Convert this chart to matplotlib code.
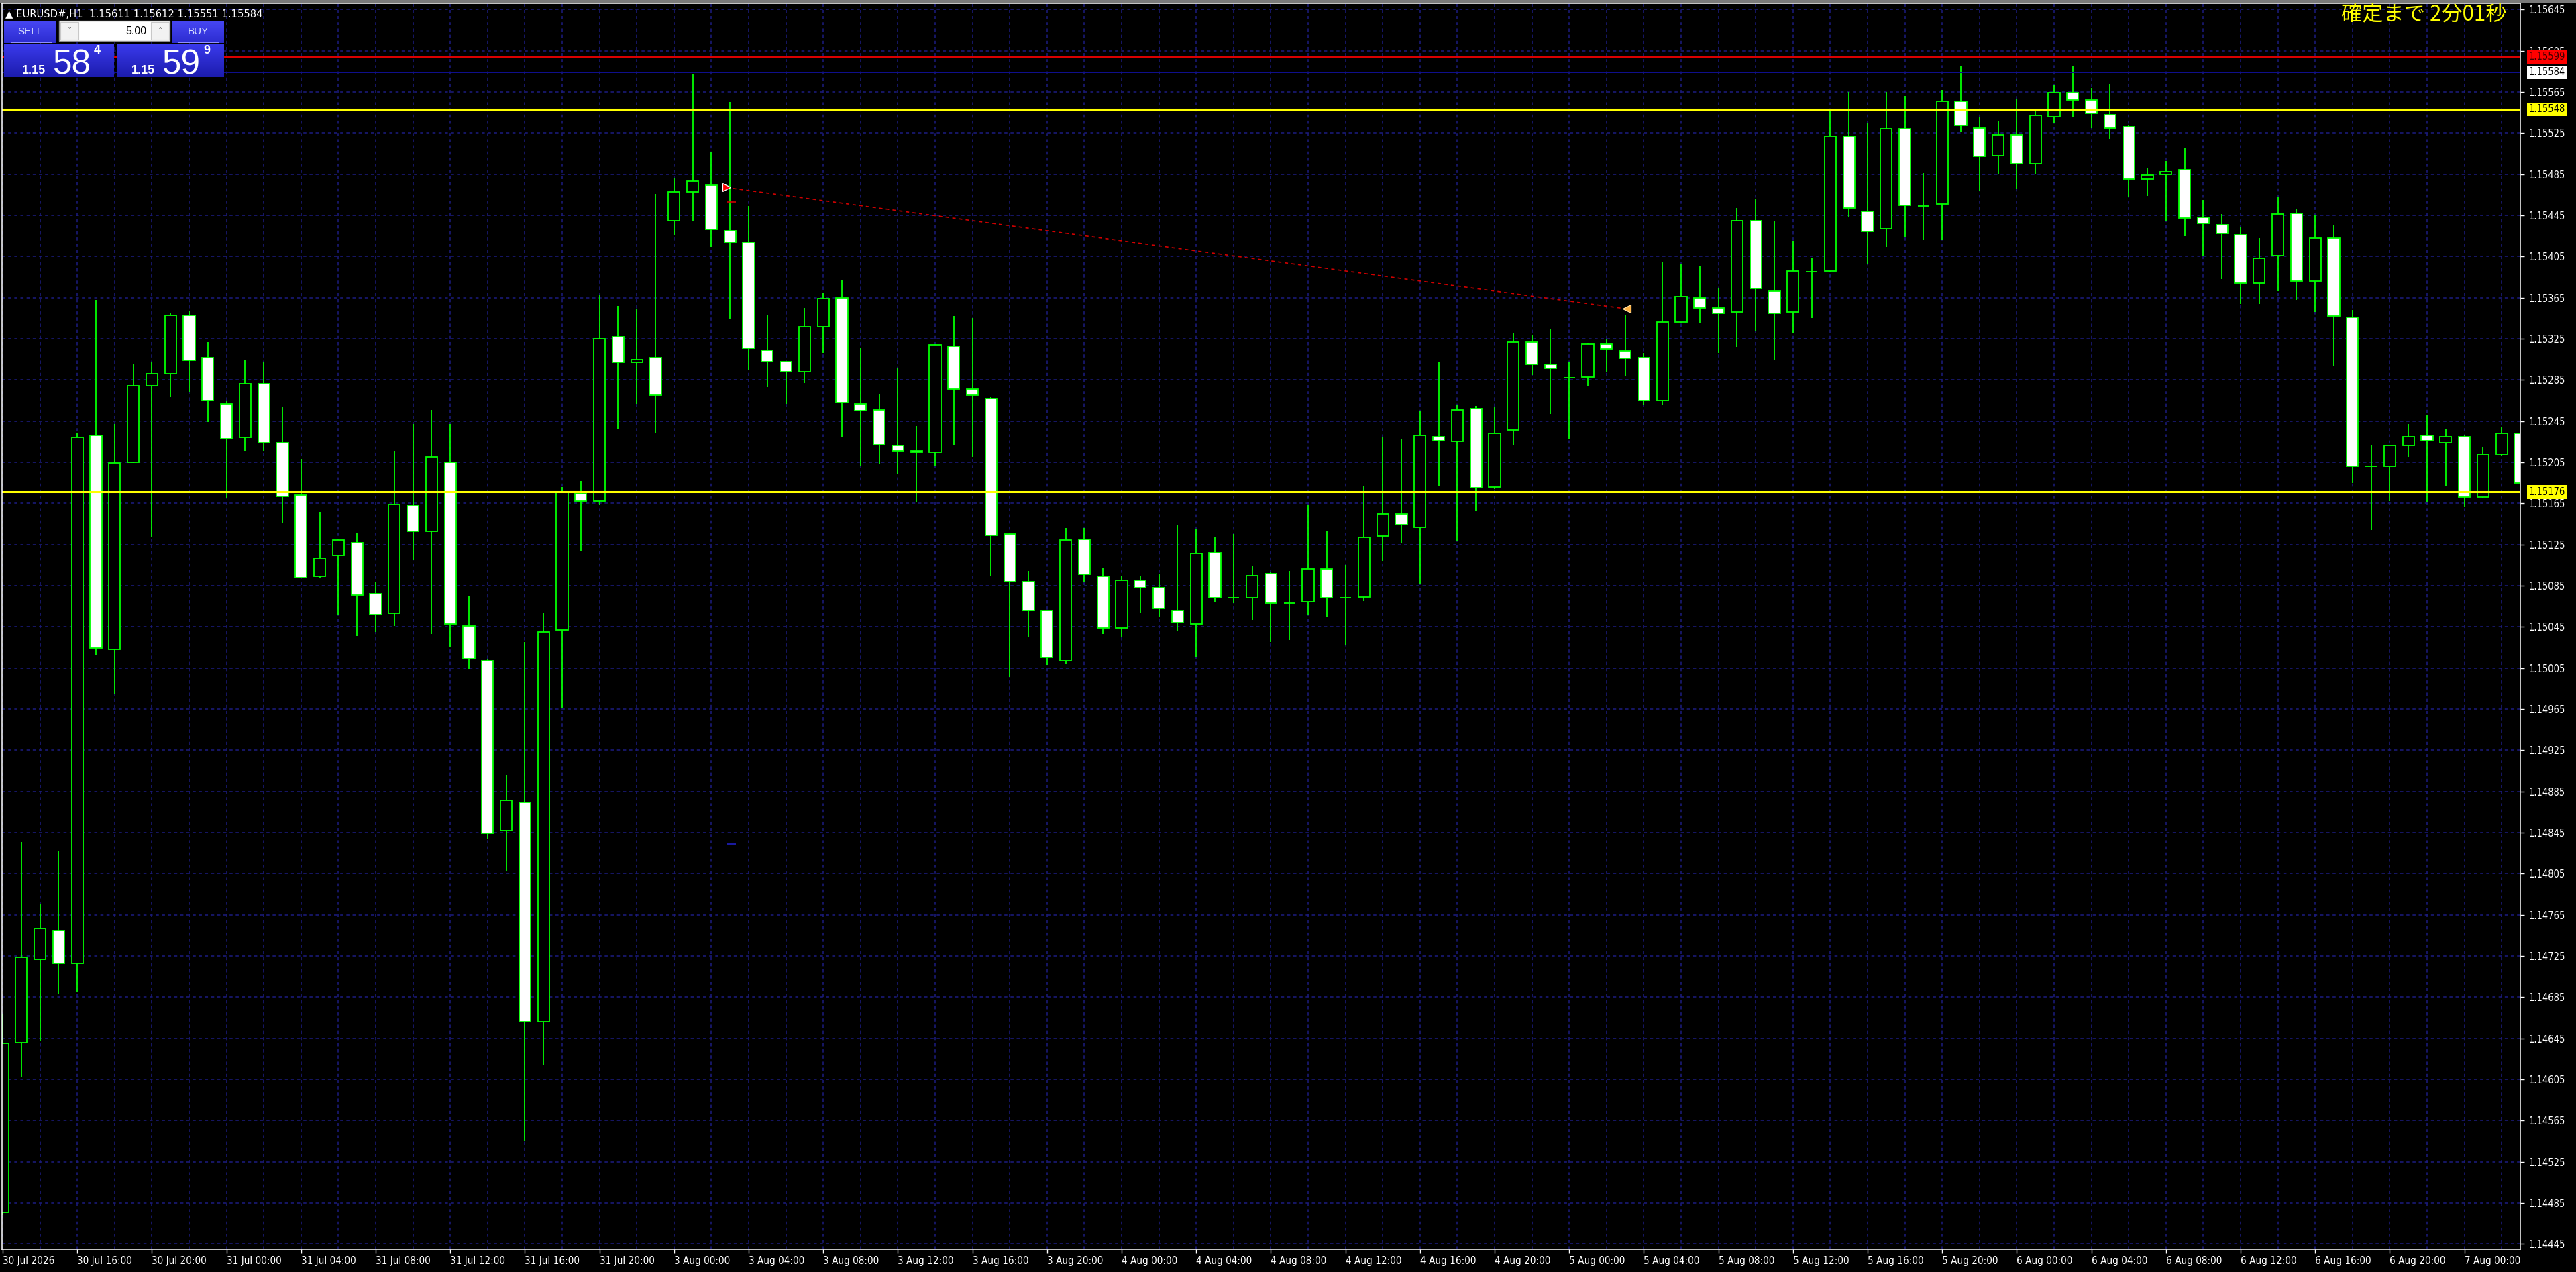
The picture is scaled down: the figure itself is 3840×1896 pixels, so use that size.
import numpy as np
import matplotlib
matplotlib.use("Agg")
import matplotlib.pyplot as plt
from matplotlib.patches import Rectangle
from matplotlib.colors import LinearSegmentedColormap
from matplotlib.ticker import FormatStrFormatter

# EURUSD H1 bars, oldest first (30 Jul 12:00 .. 7 Aug 03:00)
opens = [1.14476, 1.14641, 1.14722, 1.14750, 1.14718, 1.15231, 1.15023, 1.15205, 1.15279, 1.15291,
         1.15348, 1.15307, 1.15262, 1.15229, 1.15281, 1.15224, 1.15173, 1.15094, 1.15114, 1.15127,
         1.15077, 1.15058, 1.15163, 1.15138, 1.15205, 1.15046, 1.15012, 1.14847, 1.14874, 1.14661,
         1.15042, 1.15174, 1.15167, 1.15327, 1.15302, 1.15307, 1.15440, 1.15468, 1.15474, 1.15430,
         1.15419, 1.15314, 1.15303, 1.15293, 1.15337, 1.15365, 1.15262, 1.15256, 1.15221, 1.15216,
         1.15215, 1.15318, 1.15276, 1.15267, 1.15135, 1.15089, 1.15061, 1.15012, 1.15130, 1.15094,
         1.15044, 1.15090, 1.15083, 1.15061, 1.15048, 1.15117, 1.15073, 1.15073, 1.15097, 1.15068,
         1.15069, 1.15101, 1.15073, 1.15074, 1.15133, 1.15155, 1.15142, 1.15230, 1.15225, 1.15257,
         1.15181, 1.15236, 1.15322, 1.15300, 1.15287, 1.15288, 1.15320, 1.15313, 1.15307, 1.15265,
         1.15341, 1.15365, 1.15355, 1.15351, 1.15440, 1.15371, 1.15351, 1.15390, 1.15391, 1.15522,
         1.15449, 1.15432, 1.15529, 1.15454, 1.15456, 1.15556, 1.15530, 1.15503, 1.15523, 1.15495,
         1.15541, 1.15564, 1.15557, 1.15543, 1.15531, 1.15480, 1.15485, 1.15489, 1.15443, 1.15436,
         1.15426, 1.15379, 1.15406, 1.15447, 1.15381, 1.15423, 1.15346, 1.15201, 1.15201, 1.15221,
         1.15231, 1.15224, 1.15230, 1.15171, 1.15213, 1.15233]
highs = [1.14669, 1.14836, 1.14775, 1.14827, 1.15233, 1.15363, 1.15242, 1.15300, 1.15302, 1.15350,
         1.15352, 1.15322, 1.15264, 1.15305, 1.15303, 1.15259, 1.15208, 1.15157, 1.15130, 1.15136,
         1.15089, 1.15216, 1.15242, 1.15256, 1.15242, 1.15075, 1.15014, 1.14901, 1.15030, 1.15059,
         1.15181, 1.15187, 1.15368, 1.15357, 1.15354, 1.15466, 1.15481, 1.15582, 1.15507, 1.15555,
         1.15454, 1.15348, 1.15303, 1.15355, 1.15370, 1.15382, 1.15316, 1.15271, 1.15297, 1.15240,
         1.15320, 1.15347, 1.15345, 1.15268, 1.15136, 1.15099, 1.15061, 1.15141, 1.15141, 1.15102,
         1.15094, 1.15095, 1.15096, 1.15144, 1.15140, 1.15132, 1.15135, 1.15104, 1.15098, 1.15099,
         1.15164, 1.15138, 1.15105, 1.15182, 1.15230, 1.15227, 1.15255, 1.15303, 1.15261, 1.15260,
         1.15259, 1.15331, 1.15328, 1.15335, 1.15302, 1.15321, 1.15325, 1.15348, 1.15311, 1.15400,
         1.15397, 1.15396, 1.15374, 1.15452, 1.15461, 1.15439, 1.15420, 1.15403, 1.15547, 1.15565,
         1.15534, 1.15565, 1.15561, 1.15486, 1.15567, 1.15590, 1.15541, 1.15537, 1.15558, 1.15546,
         1.15572, 1.15590, 1.15569, 1.15573, 1.15533, 1.15491, 1.15498, 1.15510, 1.15460, 1.15446,
         1.15433, 1.15423, 1.15463, 1.15451, 1.15445, 1.15436, 1.15353, 1.15221, 1.15222, 1.15242,
         1.15251, 1.15237, 1.15232, 1.15219, 1.15239, 1.15236]
lows = [1.14473, 1.14607, 1.14643, 1.14688, 1.14690, 1.15018, 1.14980, 1.15204, 1.15132, 1.15268,
        1.15273, 1.15244, 1.15170, 1.15216, 1.15216, 1.15146, 1.15092, 1.15093, 1.15057, 1.15036,
        1.15040, 1.15046, 1.15110, 1.15038, 1.15025, 1.15004, 1.14839, 1.14808, 1.14545, 1.14619,
        1.14966, 1.15118, 1.15164, 1.15237, 1.15262, 1.15233, 1.15426, 1.15440, 1.15414, 1.15344,
        1.15294, 1.15278, 1.15262, 1.15282, 1.15311, 1.15230, 1.15201, 1.15203, 1.15194, 1.15166,
        1.15201, 1.15222, 1.15210, 1.15094, 1.14996, 1.15035, 1.15008, 1.15009, 1.15089, 1.15038,
        1.15035, 1.15058, 1.15055, 1.15041, 1.15015, 1.15069, 1.15068, 1.15052, 1.15030, 1.15032,
        1.15057, 1.15055, 1.15027, 1.15070, 1.15109, 1.15127, 1.15087, 1.15182, 1.15128, 1.15158,
        1.15179, 1.15222, 1.15290, 1.15252, 1.15227, 1.15279, 1.15293, 1.15289, 1.15261, 1.15261,
        1.15340, 1.15340, 1.15311, 1.15317, 1.15332, 1.15305, 1.15331, 1.15345, 1.15390, 1.15443,
        1.15397, 1.15414, 1.15424, 1.15421, 1.15421, 1.15526, 1.15469, 1.15485, 1.15471, 1.15485,
        1.15535, 1.15540, 1.15530, 1.15519, 1.15463, 1.15464, 1.15440, 1.15425, 1.15406, 1.15383,
        1.15359, 1.15359, 1.15371, 1.15363, 1.15351, 1.15299, 1.15185, 1.15139, 1.15167, 1.15210,
        1.15166, 1.15182, 1.15161, 1.15170, 1.15211, 1.15176]
closes = [1.14640, 1.14724, 1.14752, 1.14718, 1.15229, 1.15024, 1.15204, 1.15279, 1.15291, 1.15348,
          1.15304, 1.15265, 1.15228, 1.15281, 1.15224, 1.15172, 1.15093, 1.15112, 1.15129, 1.15076,
          1.15057, 1.15164, 1.15138, 1.15210, 1.15048, 1.15014, 1.14844, 1.14876, 1.14661, 1.15040,
          1.15176, 1.15167, 1.15325, 1.15302, 1.15305, 1.15270, 1.15468, 1.15478, 1.15431, 1.15419,
          1.15316, 1.15303, 1.15293, 1.15337, 1.15364, 1.15263, 1.15255, 1.15222, 1.15216, 1.15215,
          1.15319, 1.15276, 1.15270, 1.15134, 1.15089, 1.15061, 1.15015, 1.15129, 1.15096, 1.15044,
          1.15090, 1.15083, 1.15063, 1.15049, 1.15116, 1.15073, 1.15073, 1.15095, 1.15068, 1.15068,
          1.15101, 1.15073, 1.15073, 1.15132, 1.15155, 1.15144, 1.15231, 1.15226, 1.15256, 1.15180,
          1.15233, 1.15322, 1.15300, 1.15296, 1.15287, 1.15320, 1.15315, 1.15306, 1.15265, 1.15341,
          1.15366, 1.15355, 1.15350, 1.15440, 1.15374, 1.15350, 1.15391, 1.15390, 1.15522, 1.15452,
          1.15429, 1.15529, 1.15455, 1.15454, 1.15556, 1.15532, 1.15502, 1.15523, 1.15495, 1.15542,
          1.15564, 1.15557, 1.15544, 1.15530, 1.15480, 1.15484, 1.15487, 1.15442, 1.15437, 1.15427,
          1.15379, 1.15403, 1.15446, 1.15381, 1.15423, 1.15347, 1.15201, 1.15201, 1.15221, 1.15230,
          1.15226, 1.15230, 1.15171, 1.15213, 1.15233, 1.15185]

# one label every 4 bars
time_labels = ["30 Jul 2026", "30 Jul 16:00", "30 Jul 20:00", "31 Jul 00:00", "31 Jul 04:00",
               "31 Jul 08:00", "31 Jul 12:00", "31 Jul 16:00", "31 Jul 20:00", "3 Aug 00:00",
               "3 Aug 04:00", "3 Aug 08:00", "3 Aug 12:00", "3 Aug 16:00", "3 Aug 20:00",
               "4 Aug 00:00", "4 Aug 04:00", "4 Aug 08:00", "4 Aug 12:00", "4 Aug 16:00",
               "4 Aug 20:00", "5 Aug 00:00", "5 Aug 04:00", "5 Aug 08:00", "5 Aug 12:00",
               "5 Aug 16:00", "5 Aug 20:00", "6 Aug 00:00", "6 Aug 04:00", "6 Aug 08:00",
               "6 Aug 12:00", "6 Aug 16:00", "6 Aug 20:00", "7 Aug 00:00"]

price_ticks = np.round(np.arange(1.14445, 1.15646, 0.0004), 5)

ask_price = 1.15599
bid_price = 1.15584
levels = [1.15548, 1.15176]
trade_x = [38.8, 87.1]
trade_y = [1.15472, 1.15354]

header = "\u25b2 EURUSD#,H1  1.15611 1.15612 1.15551 1.15584"
timer_text = "確定まで 2分01秒"

W, H = 3840, 1896
green = "#00ff00"
gridc = "#1c1c80"

fig = plt.figure(figsize=(W / 100, H / 100), dpi=100, facecolor="black")
ax = fig.add_axes([3 / W, 34 / H, 3754 / W, 1857 / H])
ax.set_facecolor("black")

n = len(opens)
x = np.arange(n)

# candles
ax.vlines(x, lows, highs, color=green, lw=1.3, zorder=3)
w = 0.62
for i in range(n):
    o, c = opens[i], closes[i]
    if o == c:
        ax.hlines(o, i - w / 2, i + w / 2, color=green, lw=1.3, zorder=4)
    else:
        ax.add_patch(Rectangle((i - w / 2, min(o, c)), w, abs(c - o),
                               fc="white" if c < o else "black", ec=green, lw=1.3, zorder=4))

ax.set_xlim(-0.036, 135.0)
ax.set_ylim(1.14440, 1.15651)

# axes, ticks, grid
ax.set_xticks(np.arange(0, n, 4))
ax.set_xticklabels(time_labels)
ax.set_xticks(np.arange(0, n, 2), minor=True)
ax.set_yticks(price_ticks)
ax.yaxis.tick_right()
ax.yaxis.set_major_formatter(FormatStrFormatter("%.5f"))
ax.set_axisbelow(True)
ax.grid(which="both", axis="x", color=gridc, ls=(0, (3, 3)), lw=1.1)
ax.grid(which="major", axis="y", color=gridc, ls=(0, (3, 3)), lw=1.1)
ax.tick_params(axis="x", which="minor", length=0)
ax.tick_params(axis="x", which="major", length=4, width=1, colors="white", pad=3)
ax.tick_params(axis="y", length=4.3, width=1, colors="white", pad=5)
for lab in ax.get_xticklabels():
    lab.set_ha("left")
    lab.set_fontsize(11)
    lab.set_fontstretch("condensed")
for lab in ax.get_yticklabels():
    lab.set_fontsize(10.5)
    lab.set_fontstretch("condensed")
for s in ax.spines.values():
    s.set_color("white")
    s.set_linewidth(1.1)
    s.set_zorder(10)

# price lines
ax.axhline(ask_price, color="#e00000", lw=1.4, zorder=5)
ax.axhline(bid_price, color="#101090", lw=1.4, zorder=5)
for lv in levels:
    ax.axhline(lv, color="#ffff00", lw=2.2, zorder=5)

# closed trade
ax.plot(trade_x, trade_y, color="#d00000", ls=(0, (3, 3)), lw=1.2, zorder=6)
ax.plot(trade_x[0], trade_y[0], marker=">", ms=8, mfc="red", mec="white", mew=0.9, zorder=7)
ax.plot(trade_x[1], trade_y[1], marker="<", ms=8, mfc="#ffb040", mec="#ffe0a0", mew=0.9, zorder=7)
ax.hlines(1.15458, 38.8, 39.3, color="#d00000", lw=1.2, zorder=6)
ax.hlines(1.14834, 38.8, 39.3, color="#2020c0", lw=1.2, zorder=6)

# right-hand price labels
ytr = ax.get_yaxis_transform()
def price_box(p, fc, tc):
    ax.text(1.0 + 13 / 3754, p, f"{p:.5f}", transform=ytr, ha="left", va="center",
            fontsize=10.5, fontstretch="condensed", color=tc, clip_on=False, zorder=20,
            bbox=dict(boxstyle="square,pad=0.18", fc=fc, ec="none"))

price_box(ask_price, "#ff0000", "#400000")
price_box(bid_price, "white", "black")
for lv in levels:
    price_box(lv, "#ffff00", "black")

# overlay in pixel coordinates for the terminal widgets
ui = fig.add_axes([0, 0, 1, 1], zorder=10)
ui.patch.set_alpha(0)
ui.axis("off")

ui.add_patch(Rectangle((0, 0), W, 4, fc="#7a7a7a", ec="none"))
ui.text(8, 21, header, fontsize=10.6, color="white", va="center", family="DejaVu Sans")
ui.text(3737, 22, timer_text, fontsize=22.5, color="#ffff00", ha="right", va="center",
        family=["Noto Sans CJK JP", "DejaVu Sans"])

def grad_box(x0, y0, x1, y1, c0, c1):
    cmap = LinearSegmentedColormap.from_list("g", [c0, c1])
    ui.imshow(np.linspace(0, 1, 64).reshape(-1, 1), cmap=cmap, extent=[x0, x1, y1, y0],
              aspect="auto", zorder=11)

pf = "Liberation Sans"
grad_box(6, 32, 84, 64, "#4646f2", "#2c2cd0")
grad_box(257, 32, 334, 64, "#4646f2", "#2c2cd0")
ui.text(45, 47, "SELL", fontsize=11, color="#d8e0ff", ha="center", va="center", family=pf, zorder=12)
ui.text(295, 47, "BUY", fontsize=11, color="#d8e0ff", ha="center", va="center", family=pf, zorder=12)
ui.plot([16, 76], [63, 63], color="#9090ff", lw=0.8, zorder=12)
ui.plot([265, 325], [63, 63], color="#9090ff", lw=0.8, zorder=12)

ui.add_patch(Rectangle((88, 31), 165, 30, fc="white", ec="#909090", lw=1, zorder=12))
ui.add_patch(Rectangle((90, 33), 27, 26, fc="#f2f2f2", ec="#c8c8c8", lw=0.8, zorder=13))
ui.add_patch(Rectangle((225, 33), 27, 26, fc="#f2f2f2", ec="#c8c8c8", lw=0.8, zorder=13))
ui.text(103.5, 46, "\u02c5", fontsize=9, color="#606060", ha="center", va="center", zorder=14)
ui.text(238.5, 46, "\u02c4", fontsize=9, color="#606060", ha="center", va="center", zorder=14)
ui.text(219, 46, "5.00", fontsize=11.5, color="black", ha="right", va="center", family=pf, zorder=14)

grad_box(6, 65, 170, 115, "#3a3aec", "#1c1cae")
grad_box(174, 65, 334, 115, "#3a3aec", "#1c1cae")
for bx, big, sup in [(33, "58", "4"), (196, "59", "9")]:
    ui.text(bx, 110, "1.15", fontsize=13, color="white", ha="left", va="baseline", family=pf,
            weight="bold", zorder=12)
    ui.text(bx + 46, 110, big, fontsize=37, color="white", ha="left", va="baseline", family=pf,
            zorder=12)
    ui.text(bx + 107, 67, sup, fontsize=13, color="white", ha="left", va="top", family=pf,
            weight="bold", zorder=12)

ui.set_xlim(0, W)
ui.set_ylim(H, 0)

fig.savefig("out.png", dpi=100, facecolor="black")
